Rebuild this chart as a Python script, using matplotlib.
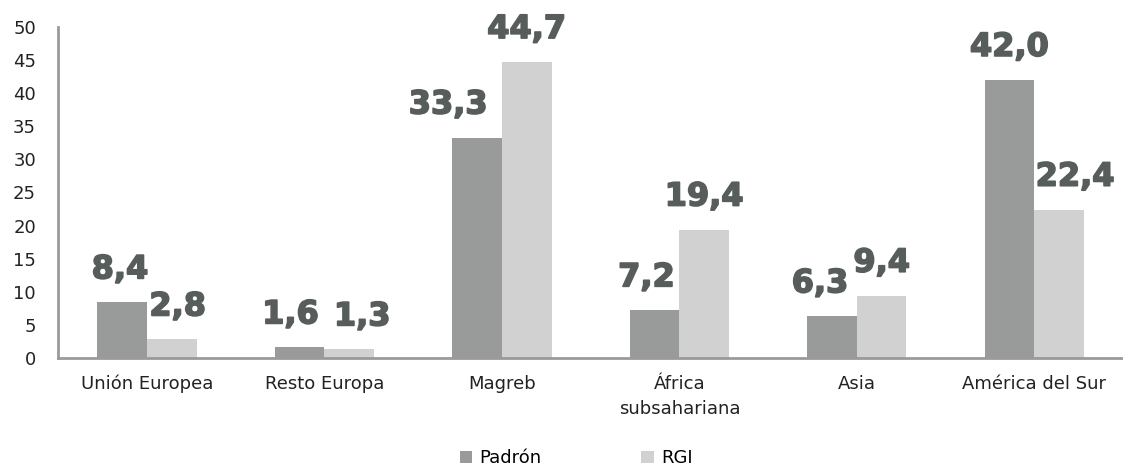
import numpy as np
import matplotlib.pyplot as plt
import matplotlib.patheffects as pe

categories = ['Unión Europea', 'Resto Europa', 'Magreb', 'África\nsubsahariana', 'Asia', 'América del Sur']
padron = [8.4, 1.6, 33.3, 7.2, 6.3, 42.0]
rgi = [2.8, 1.3, 44.7, 19.4, 9.4, 22.4]

# hand nudges (pixels) for labels, as placed in the original
nudge_padron = {0: -2, 1: -9, 2: -29, 3: -8, 4: -12}
nudge_rgi = {0: 6, 1: 13, 5: 16}

c_padron = '#989b99'
c_rgi = '#d0d1d0'
c_lab = '#575d5b'

fig = plt.figure(figsize=(11.23, 4.70), dpi=100)
ax = fig.add_axes([0.0518, 0.2383, 0.9482, 0.7043])

x = np.arange(len(categories))
w = 0.28
b1 = ax.bar(x - w / 2, padron, w, color=c_padron, label='Padrón')
b2 = ax.bar(x + w / 2, rgi, w, color=c_rgi, label='RGI')


def fmt(v):
    return ('%.1f' % v).replace('.', ',')


heavy = [pe.withStroke(linewidth=1.2, foreground=c_lab)]
for i, v in enumerate(padron):
    ax.annotate(fmt(v), (x[i] - w / 2, v), xytext=(nudge_padron.get(i, 0), 24),
                textcoords='offset pixels', ha='center', va='baseline',
                fontsize=23, fontweight='bold', color=c_lab, path_effects=heavy)
for i, v in enumerate(rgi):
    ax.annotate(fmt(v), (x[i] + w / 2, v), xytext=(nudge_rgi.get(i, 0), 24),
                textcoords='offset pixels', ha='center', va='baseline',
                fontsize=23, fontweight='bold', color=c_lab, path_effects=heavy)

ax.set_xlim(-0.5, len(categories) - 0.5)
ax.set_ylim(0, 50)
ax.set_yticks(np.arange(0, 51, 5))
ax.set_xticks(x)
ax.set_xticklabels(categories, fontsize=13, color='#222222', linespacing=1.55)
ax.tick_params(axis='y', length=0, pad=16, labelsize=13, labelcolor='#222222')
ax.tick_params(axis='x', length=0, pad=12)
for s in ['top', 'right']:
    ax.spines[s].set_visible(False)
for s in ['left', 'bottom']:
    ax.spines[s].set_color('#9a9a9a')
    ax.spines[s].set_linewidth(2)

fig.legend(handles=[b1, b2], loc='center', bbox_to_anchor=(0.513, 0.025), ncol=2,
           frameon=False, fontsize=13, handlelength=0.7, handleheight=0.7,
           handletextpad=0.4, columnspacing=5.5)

fig.savefig('out.png', dpi=100)
